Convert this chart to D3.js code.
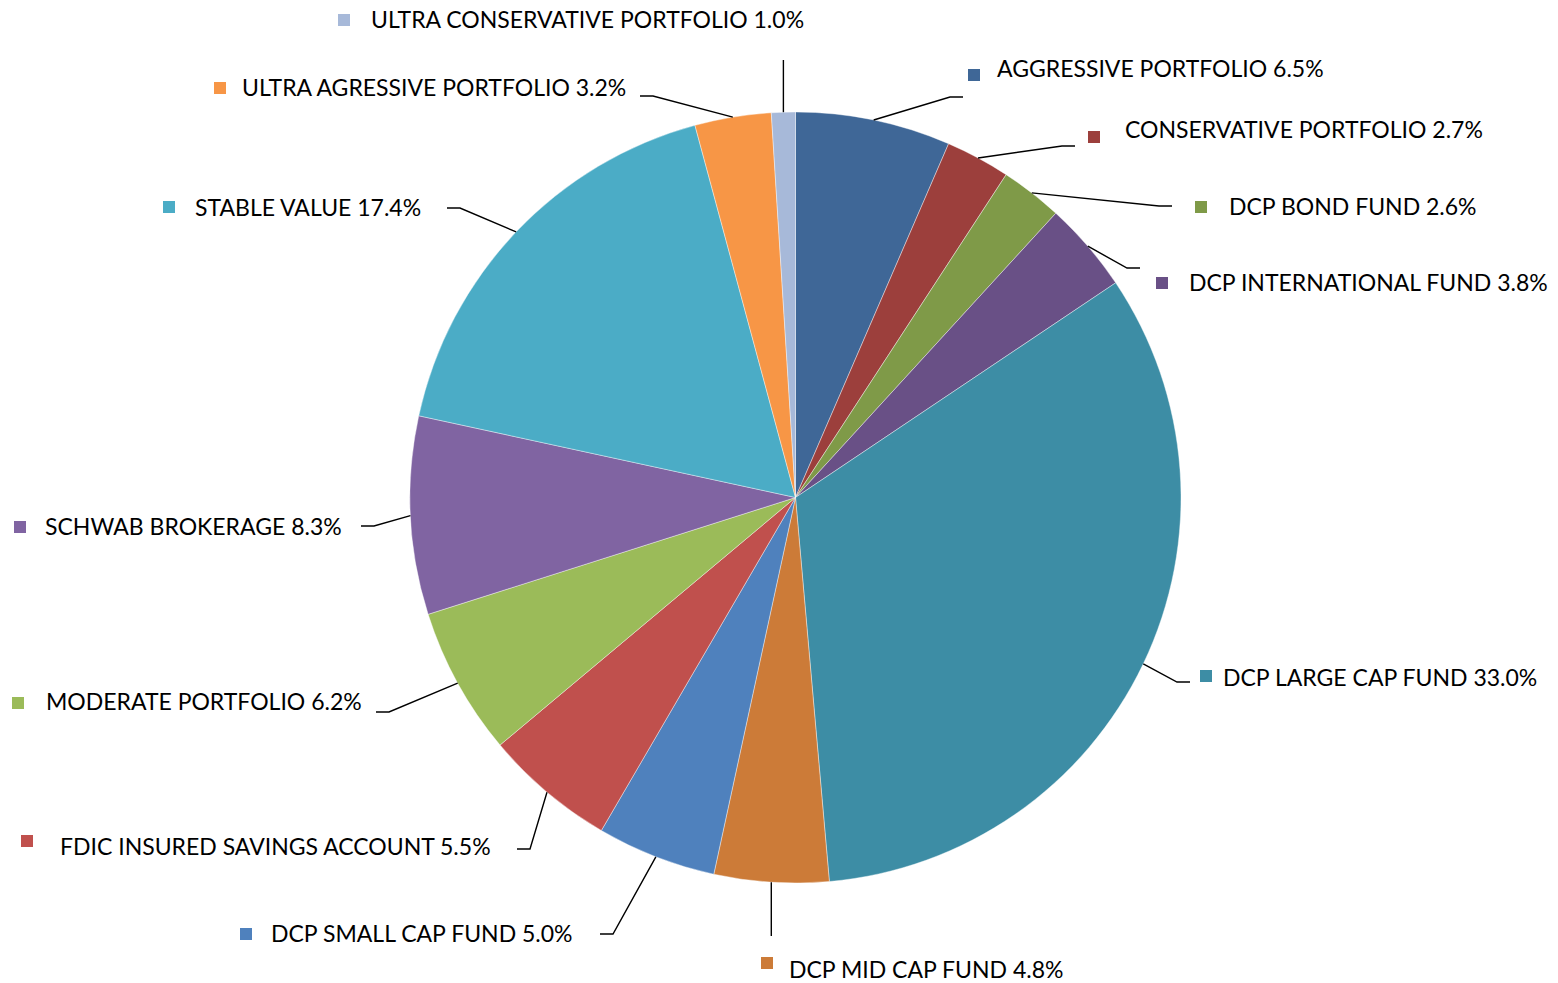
<!DOCTYPE html>
<html>
<head>
<meta charset="utf-8">
<script src="https://cdn.jsdelivr.net/npm/d3@7"></script>
<style>
  html, body { margin: 0; padding: 0; background: #fff; }
  svg { display: block; }
</style>
</head>
<body>
<div id="chart"></div>
<script>
// slices, clockwise from 12 o'clock
var names = ["AGGRESSIVE PORTFOLIO", "CONSERVATIVE PORTFOLIO", "DCP BOND FUND",
  "DCP INTERNATIONAL FUND", "DCP LARGE CAP FUND", "DCP MID CAP FUND",
  "DCP SMALL CAP FUND", "FDIC INSURED SAVINGS ACCOUNT", "MODERATE PORTFOLIO",
  "SCHWAB BROKERAGE", "STABLE VALUE", "ULTRA AGRESSIVE PORTFOLIO",
  "ULTRA CONSERVATIVE PORTFOLIO"];
var shares = [6.5, 2.7, 2.6, 3.8, 33.0, 4.8, 5.0, 5.5, 6.2, 8.3, 17.4, 3.2, 1.0];
var colors = ["#3f6797", "#9c3f3c", "#7f9a48", "#695086", "#3d8da5", "#cc7b38",
  "#4f81bd", "#c0504d", "#9bbb59", "#8064a2", "#4bacc6", "#f79646", "#a7b9d9"];

// label placement: key square centre x, key y, text x, text y, leader stub outer end x, stub y
var labelPos = [
  [974, 75, 997, 69, 963, 97],
  [1094, 137, 1125, 130, 1075, 146],
  [1201, 207, 1229, 207, 1172, 206],
  [1162, 283, 1189, 283, 1140, 268],
  [1206, 676, 1223, 678, 1190, 682],
  [767, 963, 789, 970, 771, 936],
  [246, 934, 271, 934, 600, 934],
  [27, 841, 60, 847, 517, 849],
  [18, 703, 46, 702, 376, 712],
  [20, 527, 45, 527, 361, 526],
  [169, 207, 195, 208, 447, 208],
  [220, 88, 242, 88, 640, 96],
  [344, 20, 371, 20, 784, 60]
];

var width = 1558, height = 983;
var cx = 795.5, cy = 497.5, r = 385.5;

var data = names.map(function(n, i) { return {name: n, value: shares[i], i: i}; });

var svg = d3.select("#chart").append("svg")
  .attr("width", width)
  .attr("height", height)
  .attr("font-family", "Lato, 'Open Sans', sans-serif");

var pie = d3.pie().sort(null).value(function(d) { return d.value; });
var arc = d3.arc().innerRadius(0).outerRadius(r);
var arcs = pie(data);

var g = svg.append("g").attr("transform", "translate(" + cx + "," + cy + ")");

g.selectAll("path")
  .data(arcs)
  .join("path")
  .attr("d", arc)
  .attr("fill", function(d) { return colors[d.data.i]; })
  .attr("stroke", "#ffffff")
  .attr("stroke-width", 0.4);

// leader lines: pie edge at mid angle -> elbow -> short horizontal stub toward the label
var leaders = svg.append("g")
  .attr("fill", "none")
  .attr("stroke", "#000")
  .attr("stroke-width", 1.4);

arcs.forEach(function(d) {
  var p = labelPos[d.data.i];
  var a = (d.startAngle + d.endAngle) / 2;
  var ex = cx + r * Math.sin(a), ey = cy - r * Math.cos(a);
  var pts;
  if (Math.abs(p[4] - ex) < 20) {
    // vertical leader (top/bottom)
    pts = [[ex, ey], [ex, p[5]]];
  } else {
    var elbow = p[4] + (ex > p[4] ? 13 : -13);
    pts = [[ex, ey], [elbow, p[5]], [p[4], p[5]]];
  }
  leaders.append("path").attr("d", d3.line()(pts));
});

var labels = svg.append("g").selectAll("g")
  .data(data)
  .join("g");

labels.append("rect")
  .attr("x", function(d) { return labelPos[d.i][0] - 6; })
  .attr("y", function(d) { return labelPos[d.i][1] - 6; })
  .attr("width", 12)
  .attr("height", 12)
  .attr("fill", function(d) { return colors[d.i]; });

labels.append("text")
  .attr("x", function(d) { return labelPos[d.i][2]; })
  .attr("y", function(d) { return labelPos[d.i][3] - 1; })
  .attr("dominant-baseline", "central")
  .attr("font-size", "23px")
  .attr("fill", "#000")
  .text(function(d) { return d.name + " " + d3.format(".1f")(d.value) + "%"; });
</script>
</body>
</html>
